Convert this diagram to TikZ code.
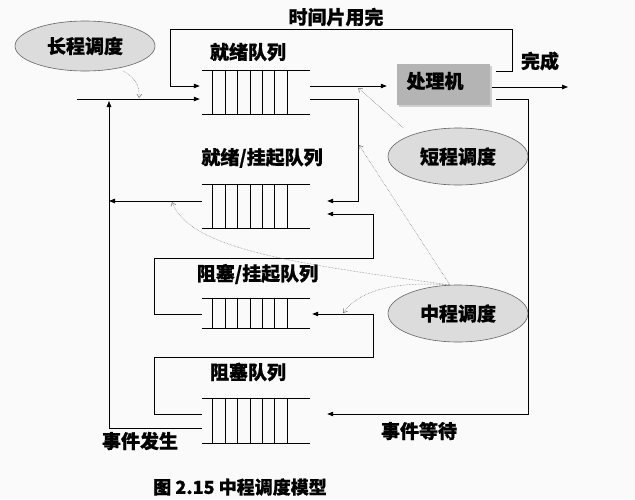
\documentclass[tikz,border=0pt]{standalone}
\usepackage{fontspec}
\setmainfont{Noto Sans CJK SC}[BoldFeatures={FakeBold=0.7}]
\usetikzlibrary{arrows.meta,shapes.geometric,shadows,calc}
\definecolor{bgc}{RGB}{250,250,250}
\definecolor{ellfill}{RGB}{220,220,220}
\definecolor{elldraw}{RGB}{100,100,100}
\definecolor{procfill}{RGB}{180,180,180}
\definecolor{ctrlc}{RGB}{110,110,110}
\newcommand\qlines[1]{%
  \draw[plain] (#1.north west) -- (#1.north east) (#1.south west) -- (#1.south east);
  \foreach \i in {0,...,6} {\draw[plain] ($(#1.north west)+(11+12.4*\i,0)$) -- ($(#1.south west)+(11+12.4*\i,0)$);}%
}
\begin{document}
\begin{tikzpicture}[x=1pt,y=-1pt,
  plain/.style={line width=0.8pt},
  conn/.style={line width=0.8pt,-{Triangle[length=6pt,width=4.5pt]}},
  ctrl/.style={draw=ctrlc,line width=0.5pt,densely dotted,-{Straight Barb[length=3.5pt,width=5pt]}},
  lab/.style={font=\fontsize{19}{22}\selectfont\bfseries,inner sep=0pt},
  queue/.style={draw=none,minimum width=108pt,inner sep=0pt},
  sched/.style={ellipse,draw=elldraw,fill=ellfill,line width=0.6pt,minimum width=140pt,inner sep=0pt,lab},
  proc/.style={rectangle,fill=procfill,minimum width=93pt,minimum height=41pt,inner sep=0pt,
    drop shadow={shadow xshift=2pt,shadow yshift=-2pt,opacity=0.35}}]
\fill[bgc] (0,0) rectangle (635,499);
\useasboundingbox (0,0) rectangle (635,499);

% queues
\node[queue,minimum height=43pt] (q1) at (256,92.5) {};
\node[queue,minimum height=43pt] (q2) at (256,206.5) {};
\node[queue,minimum height=29pt] (q3) at (256,313.5) {};
\node[queue,minimum height=44pt] (q4) at (256,421) {};
\qlines{q1}\qlines{q2}\qlines{q3}\qlines{q4}

% processor and schedulers
\node[proc] (P) at (443.5,84.5) {};
\node[lab] (Plab) at (435,81) {处理机};
\node[sched,minimum height=50pt] (L) at (85,46) {长程调度};
\node[sched,minimum height=57pt] (S) at (458,156.5) {短程调度};
\node[sched,minimum height=57pt] (M) at (458,313.5) {中程调度};

% labels
\node[lab] (tslab) at (336,17) {时间片用完};
\node[lab] (q1lab) at (248,52) {就绪队列};
\node[lab] (donelab) at (540,61) {完成};
\node[lab] (q2lab) at (262,158) {就绪/挂起队列};
\node[lab] (q3lab) at (257.5,274) {阻塞/挂起队列};
\node[lab] (q4lab) at (248,372) {阻塞队列};
\node[lab] (evlab) at (140,441) {事件发生};
\node[lab] (ewlab) at (419,431) {事件等待};
\node[font=\fontsize{18}{21}\selectfont\bfseries,inner sep=0pt] (cap) at (240,487) {图 2.15 中程调度模型};

% named coordinates for free ends and corners
\coordinate (src) at (77,99);
\coordinate (tsR) at (512,29);
\coordinate (tsL) at (170,29);
\coordinate (bus) at (109,99);
\coordinate (done) at (568,87);
\coordinate (c12) at (358,99);
\coordinate (c32a) at (154,258);
\coordinate (c32b) at (373,258);
\coordinate (c43a) at (154,357);
\coordinate (c43b) at (373,357);
\coordinate (c4) at (528,414);

% connectors
\draw[conn,shorten >=2pt] (src) -- (q1.west |- src);
\draw[conn] ($(P.east |- 0,71)+(6,0)$) -| (tsR) -- (tsL) |- ($(q1.west |- 0,86)+(-2,0)$);
\draw[conn] (q1.east |- 0,86) -- ($(P.west |- 0,86)+(-10,0)$);
\draw[conn] (q1.east |- 0,99) -| (c12 |- 0,201) -- ($(q2.east |- 0,201)+(17,0)$);
\draw[conn] (q3.west |- 0,314) -| (c32a) -- (c32b) |- ($(q2.east |- 0,214)+(17,0)$);
\draw[conn] (q4.west |- 0,414) -| (c43a) -- (c43b) |- ($(q3.east |- 0,314)+(2,0)$);
\draw[conn] ($(P.east |- 0,99)+(6,0)$) -| (c4) -- ($(q4.east |- c4)+(17,0)$);
\draw[conn] ($(P.east |- done)+(2,0)$) -- (done);
\draw[conn] (q2.west |- 0,201) -- (bus |- 0,201);
\draw[conn] (q4.west |- 0,428) -| ($(bus)+(0,2)$);

% scheduler control (dotted)
\draw[ctrl] ($(L.center)+(38,25)$) .. controls +(12,6) and +(1,-12) .. ($(src)+(62,-1)$);
\draw[ctrl] ($(S.center)+(-55,-29)$) -- ($(q1.east |- 0,88)+(48,0)$);
\draw[ctrl] ($(M.center)+(-8,-28.5)$) -- ($(c12 |- 0,145)+(1,0)$);
\draw[ctrl] ($(M.center)+(-8,-28.5)$) .. controls (300,264) and (190,250) .. ($(bus |- 0,202)+(63,0)$);
\draw[ctrl] ($(M.center)+(-8,-28.5)$) .. controls (385,280) and (356,295) .. ($(q3.east |- 0,313)+(33,0)$);
\end{tikzpicture}
\end{document}
